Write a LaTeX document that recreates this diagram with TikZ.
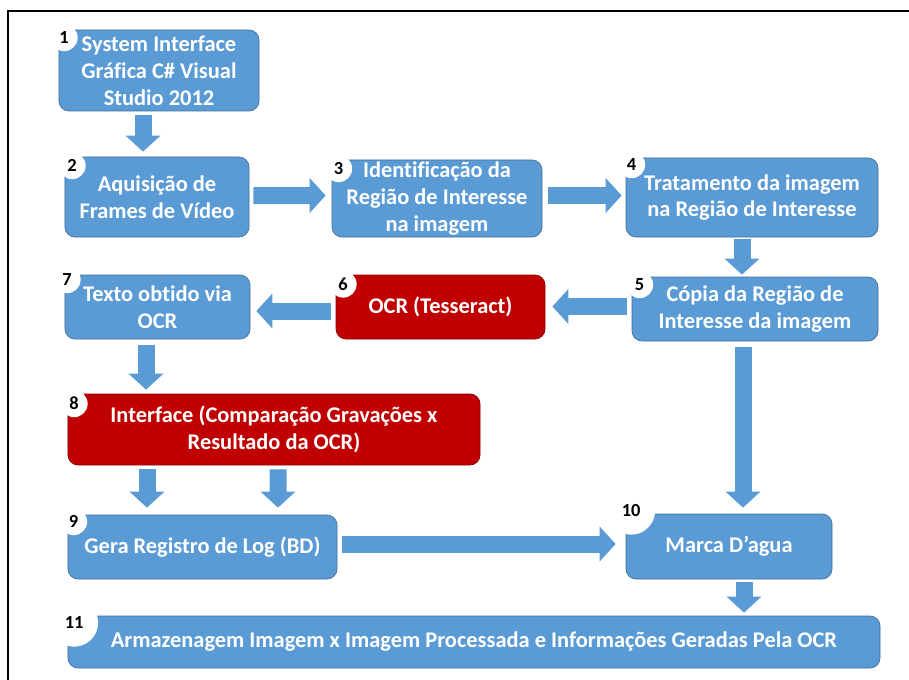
\documentclass[tikz,border=0pt]{standalone}
\usepackage{fontspec}
\setmainfont{Carlito}[Ligatures=NoCommon]
\usetikzlibrary{arrows.meta,calc}
\definecolor{boxblue}{HTML}{5B9BD5}
\definecolor{boxblueedge}{HTML}{41719C}
\definecolor{boxred}{HTML}{C00000}
\definecolor{boxrededge}{HTML}{8C0000}
\begin{document}
\begin{tikzpicture}[x=1bp,y=-1bp,
  box/.style={draw=boxblueedge, fill=boxblue, rounded corners=10bp, line width=0.7bp,
    text=white, font=\fontsize{22.5}{27}\selectfont\bfseries, align=center, inner sep=0pt},
  redbox/.style={box, fill=boxred, draw=boxrededge},
  num/.style={circle, fill=white, text=black, font=\fontsize{18.5}{18.5}\selectfont\bfseries,
    inner sep=0pt, minimum size=27bp},
  numtwo/.style={num, minimum size=48bp},
  flow/.style={draw=boxblue, line width=17bp, -{Triangle[width=34bp,length=16bp]}}
]
\useasboundingbox (0,0) rectangle (909,680);
\fill[white] (0,0) rectangle (909,680);
\draw[line width=2.5bp, black] (8,680) -- (8,11) -- (909,11);

% boxes
\node[box, minimum width=200bp, minimum height=81bp] (n1) at (159,70.5)
  {System Interface\\Gráfica C\# Visual\\Studio 2012};
\node[box, minimum width=184bp, minimum height=80bp] (n2) at (157,197)
  {Aquisição de\\Frames de Vídeo};
\node[box, minimum width=210bp, minimum height=77bp] (n3) at (437,198.5)
  {Identificação da\\Região de Interesse\\na imagem};
\node[box, minimum width=252bp, minimum height=79bp] (n4) at (752,197.5)
  {Tratamento da imagem\\na Região de Interesse};
\node[box, minimum width=246bp, minimum height=64bp] (n5) at (755,309)
  {Cópia da Região de\\Interesse da imagem};
\node[redbox, minimum width=209bp, minimum height=64bp] (n6) at (440.5,307)
  {OCR (Tesseract)};
\node[box, minimum width=185bp, minimum height=64bp] (n7) at (157.5,307)
  {Texto obtido via\\OCR};
\node[redbox, minimum width=412bp, minimum height=71bp] (n8) at (274,429.5)
  {Interface (Comparação Gravações x\\Resultado da OCR)};
\node[box, minimum width=269bp, minimum height=64bp] (n9) at (202.5,547)
  {Gera Registro de Log (BD)};
\node[box, minimum width=206bp, minimum height=65bp] (n10) at (729,546.5)
  {Marca D’agua};
\node[box, minimum width=812bp, minimum height=52bp] (n11) at (474,642)
  {Armazenagem Imagem x Imagem Processada e Informações Geradas Pela OCR};

% number labels
\node[num] (l1) at ($(n1.north west)+(5.5,8)$) {1};
\node[num] (l2) at ($(n2.north west)+(7.5,9)$) {2};
\node[num] (l3) at ($(n3.north west)+(7,9)$) {3};
\node[num] (l4) at ($(n4.north west)+(6,7)$) {4};
\node[num] (l5) at ($(n5.north west)+(8,8)$) {5};
\node[num] (l6) at ($(n6.north west)+(7.5,9.5)$) {6};
\node[num] (l7) at ($(n7.north west)+(2.5,5)$) {7};
\node[num] (l8) at ($(n8.north west)+(6.5,10)$) {8};
\node[num] (l9) at ($(n9.north west)+(6,7)$) {9};
\node[numtwo] (l10) at ($(n10.north west)+(5.5,-3)$) {10};
\node[numtwo] (l11) at ($(n11.north west)+(6.5,7)$) {11};

% connectors
\draw[flow] ($(n1.south)+(-16,4)$) -- ($(n2.north)+(-14,-5)$);
\draw[flow] ($(n2.east)+(4,-1.5)$) -- ($(n3.west)+(-6,-3)$);
\draw[flow] ($(n3.east)+(6,-3)$) -- ($(n4.west)+(-4,-2)$);
\draw[flow] ($(n4.south)+(-10,2)$) -- ($(n5.north)+(-13,-2)$);
\draw[flow] ($(n5.west)+(-5,-2.5)$) -- ($(n6.east)+(7,-0.5)$);
\draw[flow] ($(n6.west)+(-5,4)$) -- ($(n7.east)+(6,4)$);
\draw[flow] ($(n7.south)+(-11.5,6)$) -- ($(n8.north)+(-128,-4)$);
\draw[flow] ($(n8.south)+(-127,4)$) -- ($(n9.north)+(-55.5,-7)$);
\draw[flow] ($(n8.south)+(4,4)$) -- ($(n9.north)+(75.5,-7)$);
\draw[flow] ($(n9.east)+(5,-3)$) -- ($(n10.west)+(-10,-2.5)$);
\draw[flow] ($(n5.south)+(-12,6)$) -- ($(n10.north)+(14,-6)$);
\draw[flow] ($(n10.south)+(15,3)$) -- ($(n11.north)+(270,-3)$);
\end{tikzpicture}
\end{document}
